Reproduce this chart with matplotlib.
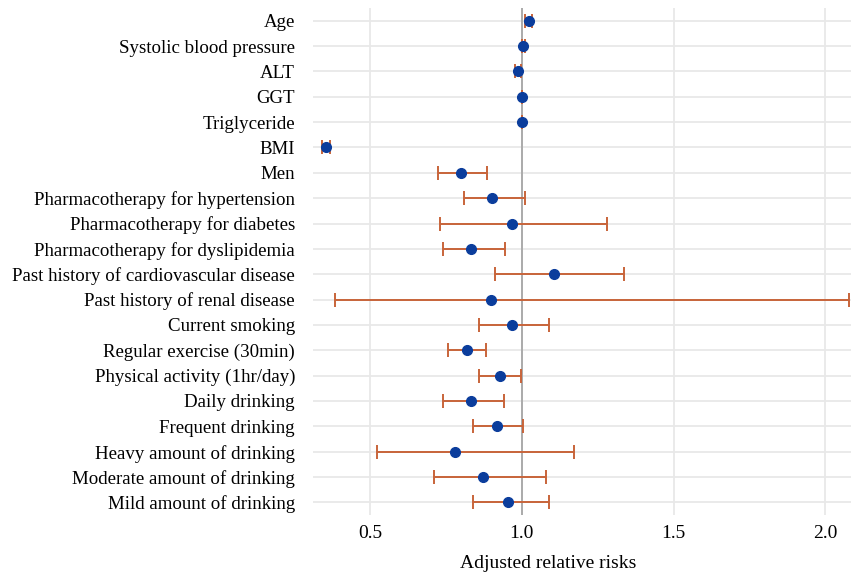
import matplotlib
matplotlib.use("Agg")
import matplotlib.pyplot as plt

labels = ["Age", "Systolic blood pressure", "ALT", "GGT", "Triglyceride", "BMI", "Men",
          "Pharmacotherapy for hypertension", "Pharmacotherapy for diabetes",
          "Pharmacotherapy for dyslipidemia", "Past history of cardiovascular disease",
          "Past history of renal disease", "Current smoking", "Regular exercise (30min)",
          "Physical activity (1hr/day)", "Daily drinking", "Frequent drinking",
          "Heavy amount of drinking", "Moderate amount of drinking", "Mild amount of drinking"]
rr = [1.024, 1.005, 0.987, 1.0, 1.0, 0.354, 0.800, 0.902, 0.968, 0.833, 1.106, 0.898,
      0.968, 0.818, 0.927, 0.833, 0.919, 0.781, 0.873, 0.955]
lower = [1.011, 1.0, 0.978, 1.0, 1.0, 0.342, 0.723, 0.808, 0.731, 0.740, 0.910, 0.384,
         0.859, 0.756, 0.860, 0.740, 0.838, 0.521, 0.711, 0.838]
upper = [1.035, 1.01, 0.996, 1.0, 1.0, 0.366, 0.886, 1.009, 1.281, 0.946, 1.338, 2.08,
         1.089, 0.882, 0.996, 0.940, 1.004, 1.171, 1.078, 1.089]

plt.rcParams['font.family'] = ['Liberation Serif', 'DejaVu Serif']

fig = plt.figure(figsize=(8.51, 5.77), dpi=100)
ax = fig.add_axes([0.368, 0.1075, 0.632, 0.8785])

y = list(range(len(labels)))
xerr = [[r - l for r, l in zip(rr, lower)], [u - r for r, u in zip(rr, upper)]]

ax.axvline(1.0, color='#a0a0a0', lw=1.2, zorder=1)
ax.errorbar(rr, y, xerr=xerr, fmt='none', ecolor='#c8643a', elinewidth=1.4,
            capsize=5, capthick=1.4, zorder=2)
ax.plot(rr, y, 'o', color='#0b3d9c', markersize=7, zorder=3)

ax.set_yticks(y)
ax.set_yticklabels(labels, fontsize=13.6)
ax.set_ylim(len(labels) - 0.5, -0.5)
ax.set_xlim(0.312, 2.085)
ax.set_xticks([0.5, 1.0, 1.5, 2.0])
ax.set_xticklabels(['0.5', '1.0', '1.5', '2.0'], fontsize=14)
ax.set_xlabel('Adjusted relative risks', fontsize=14)
ax.xaxis.set_label_coords(0.437, -0.079)

ax.grid(True, color='#e8e8e8', lw=1.3)
ax.set_axisbelow(True)
for s in ax.spines.values():
    s.set_visible(False)
ax.tick_params(axis='y', length=0, pad=13)
ax.tick_params(axis='x', length=0, pad=7)

fig.savefig('out.png', dpi=100)
